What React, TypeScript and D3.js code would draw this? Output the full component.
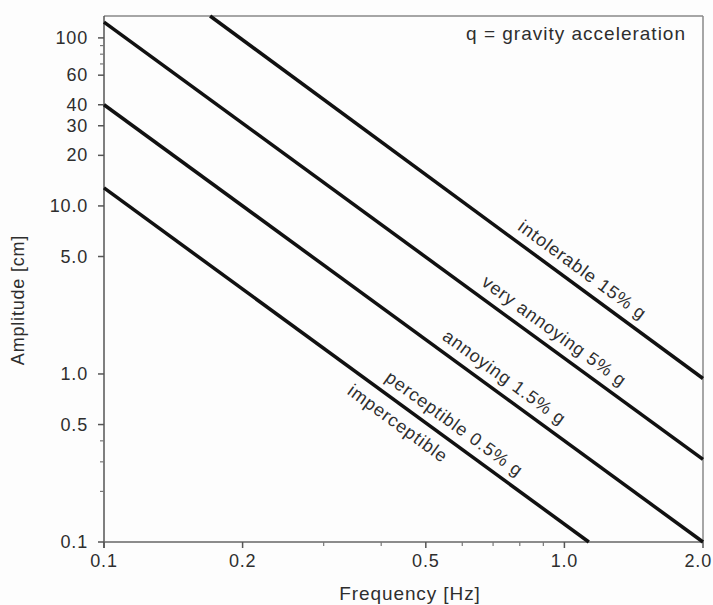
import React from "react";
import * as d3 from "d3";

const freqMajor = [0.1, 0.2, 0.5, 1.0, 2.0];
const freqMajorLabels = ["0.1", "0.2", "0.5", "1.0", "2.0"];
const freqMinor = [0.3, 0.4, 0.6, 0.7, 0.8, 0.9];
const ampMajor = [0.1, 0.5, 1, 5, 10, 20, 30, 40, 60, 100];
const ampMajorLabels = ["0.1", "0.5", "1.0", "5.0", "10.0", "20", "30", "40", "60", "100"];
const ampMinor = [0.2, 0.3, 0.4, 70, 80, 90];

const limitNames = ["0.5% g", "1.5% g", "5% g", "15% g"];
const limitFreqStart = [0.1, 0.1, 0.1, 0.17];
const limitAmpStart = [12.8, 40, 124, 135];
const limitFreqEnd = [1.13, 2.0, 2.0, 2.0];
const limitAmpEnd = [0.1, 0.1, 0.31, 0.94];

const labelTexts = ["imperceptible", "perceptible 0.5% g", "annoying 1.5% g", "very annoying 5% g", "intolerable 15% g"];
const labelLine = [0, 0, 1, 2, 3];
const labelFreq = [0.457, 0.55, 0.707, 0.907, 1.044];
const labelSide = [1, -1, -1, -1, -1];

const W = 713, H = 605;
const L = 104, R = 703, T = 16, B = 542;
const TXT = "#2e2e2e";
const FONT = "'Liberation Sans', Arial, sans-serif";

export default function App() {
  const x = d3.scaleLog().domain([0.1, 2.0]).range([L, R]);
  const y = d3.scaleLog().domain([0.1, 135]).range([B, T]);
  const line = d3.line<[number, number]>().x(d => x(d[0])).y(d => y(d[1]));

  const labelEls = labelTexts.map((t, i) => {
    const k = labelLine[i];
    const f0 = limitFreqStart[k], f1 = limitFreqEnd[k];
    const a0 = limitAmpStart[k], a1 = limitAmpEnd[k];
    const x0 = x(f0), y0 = y(a0), x1 = x(f1), y1 = y(a1);
    const th = Math.atan2(y1 - y0, x1 - x0);
    const px = x(labelFreq[i]);
    const py = y0 + (px - x0) * (y1 - y0) / (x1 - x0);
    const dist = labelSide[i] > 0 ? 17 : 16;
    const nx = -Math.sin(th), ny = Math.cos(th);
    const cx = px + labelSide[i] * dist * nx;
    const cy = py + labelSide[i] * dist * ny;
    return (
      <text key={t} x={0} y={0} transform={`translate(${cx},${cy}) rotate(${(th * 180) / Math.PI})`}
        textAnchor="middle" dominantBaseline="central" fontSize={18} letterSpacing={0.9} fill={TXT}>{t}</text>
    );
  });

  return (
    <svg width={W} height={H} style={{ position: "absolute", left: 0, top: 0, background: "#fff" }} fontFamily={FONT}>
      <rect x={0} y={0} width={W} height={H} fill="#fdfdfd" />
      {/* frame */}
      <line x1={L} y1={T} x2={R} y2={T} stroke="#888" strokeWidth={1.5} />
      <line x1={R} y1={T} x2={R} y2={B} stroke="#888" strokeWidth={1.5} />
      <line x1={L} y1={T} x2={L} y2={B + 6} stroke="#555" strokeWidth={1.5} />
      <line x1={L} y1={B} x2={R} y2={B} stroke="#666" strokeWidth={1.5} />
      {/* y ticks */}
      {ampMajor.map((v, i) => (
        <g key={"ym" + v}>
          <line x1={L - 6} x2={L} y1={y(v)} y2={y(v)} stroke="#555" strokeWidth={1.5} />
          <text x={L - 16} y={y(v)} textAnchor="end" dominantBaseline="central" fontSize={18} letterSpacing={0.8} fill={TXT}>{ampMajorLabels[i]}</text>
        </g>
      ))}
      {ampMinor.map(v => (
        <line key={"yn" + v} x1={L - 4} x2={L} y1={y(v)} y2={y(v)} stroke="#777" strokeWidth={1.2} />
      ))}
      {/* x ticks */}
      {freqMajor.map((v, i) => {
        const last = i === freqMajor.length - 1;
        return (
          <g key={"xm" + v}>
            <line x1={x(v)} x2={x(v)} y1={B} y2={B + 6} stroke="#555" strokeWidth={1.5} />
            <text x={last ? W - 1 : x(v)} y={567} textAnchor={last ? "end" : "middle"} fontSize={18} letterSpacing={0.8} fill={TXT}>{freqMajorLabels[i]}</text>
          </g>
        );
      })}
      {freqMinor.map(v => (
        <line key={"xn" + v} x1={x(v)} x2={x(v)} y1={B} y2={B + 4} stroke="#777" strokeWidth={1.2} />
      ))}
      {/* limit lines */}
      {limitNames.map((n, k) => (
        <path key={n} d={line([[limitFreqStart[k], limitAmpStart[k]], [limitFreqEnd[k], limitAmpEnd[k]]]) || ""}
          stroke="#111" strokeWidth={3.5} fill="none" />
      ))}
      {labelEls}
      <text x={686} y={40} textAnchor="end" fontSize={19} letterSpacing={1} fill={TXT}>q = gravity acceleration</text>
      <text x={410} y={600} textAnchor="middle" fontSize={19} letterSpacing={0.9} fill={TXT}>Frequency [Hz]</text>
      <text transform="translate(24,300) rotate(-90)" textAnchor="middle" fontSize={18} letterSpacing={0.8} fill={TXT}>Amplitude [cm]</text>
    </svg>
  );
}
